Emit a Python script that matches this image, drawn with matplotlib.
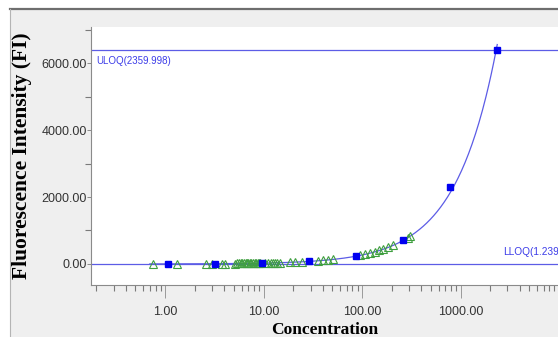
import matplotlib
matplotlib.use("Agg")
import matplotlib.pyplot as plt
from matplotlib.patches import Rectangle
from matplotlib.lines import Line2D
from matplotlib.ticker import LogLocator, FixedLocator, FuncFormatter, NullFormatter
import numpy as np

# standards (blue squares)
std_conc = [1.08, 3.24, 9.71, 29.1, 87.4, 262.0, 787.0, 2360.0]
std_fi = [3.0, 9.0, 26.0, 75.0, 225.0, 716.0, 2290.0, 6395.0]

# samples (green triangles)
smp_conc = [0.75, 1.31, 2.6, 2.98, 3.76, 4.07,
            5.1, 5.4, 5.6, 5.9, 6.1, 6.3, 6.6, 6.8, 7.0, 7.3, 7.5, 7.8,
            8.1, 8.4, 8.7, 9.0, 9.3, 10.4, 11.0, 11.8, 12.5, 13.2, 13.7,
            14.7, 18.6, 20.9, 24.4, 35.8, 40.0, 45.0, 50.7,
            95.0, 108.0, 120.0, 135.0, 150.0, 165.0, 183.0, 207.0, 290.0, 307.0]
smp_fi = [2, 4, 7, 8, 10, 11,
          14, 15, 15, 16, 17, 17, 18, 19, 19, 20, 21, 21,
          22, 23, 24, 25, 26, 29, 30, 32, 34, 36, 37,
          40, 51, 57, 66, 97, 109, 122, 138,
          258, 294, 327, 367, 408, 449, 498, 563, 789, 835]

uloq = 6403.0
lloq = 5.0
uloq_label = "ULOQ(2359.998)"
lloq_label = "LLOQ(1.239)"

W, H = 558, 337
fig = plt.figure(figsize=(W / 100, H / 100), dpi=100)
fig.patch.set_facecolor("white")

# grey panel with frame lines
fig.patches.append(Rectangle((10 / W, 0), 1 - 10 / W, (H - 9) / H, transform=fig.transFigure,
                             facecolor="#efefef", edgecolor="none", zorder=-10))
fig.lines.append(Line2D([10 / W, 1], [(H - 9) / H] * 2, transform=fig.transFigure,
                        color="#6e6e6e", lw=1.6, zorder=-9))
fig.lines.append(Line2D([10 / W] * 2, [0, (H - 9) / H], transform=fig.transFigure,
                        color="#b4b4b4", lw=0.8, zorder=-9))

ax = fig.add_axes([91 / W, (H - 285) / H, 1 - 91 / W, (285 - 27) / H])
ax.set_zorder(1)
ax.set_facecolor("white")
ax.set_xscale("log")
ax.set_xlim(0.177, 9773)
ax.set_ylim(-627, 7075)

line_c = "#5c5ce6"
ax.axhline(uloq, color=line_c, lw=0.9, zorder=2)
ax.axhline(lloq, color=line_c, lw=0.9, zorder=2)

# weighted quadratic fit through the standards
cs = np.array(std_conc)
coef = np.polyfit(cs, np.array(std_fi), 2, w=1 / cs)
xx = np.logspace(np.log10(0.7), np.log10(cs.max()), 400)
ax.plot(xx, np.polyval(coef, xx), color=line_c, lw=0.9, zorder=2)

ax.plot(smp_conc, smp_fi, linestyle="none", marker="^", markersize=5.5,
        markerfacecolor="none", markeredgecolor="#3f9f3f", markeredgewidth=0.8, zorder=3)
ax.plot(std_conc, std_fi, linestyle="none", marker="s", markersize=5,
        color="#0000f0", zorder=4)

txt_c = "#3c3ce8"
ax.annotate(uloq_label, xy=(0.012, uloq), xycoords=("axes fraction", "data"),
            xytext=(0, -5), textcoords="offset points", va="top", ha="left",
            fontsize=7, color=txt_c, family="Liberation Sans")
ax.annotate(lloq_label, xy=(503 / W, lloq), xycoords=("figure fraction", "data"),
            xytext=(0, 5), textcoords="offset points", va="bottom", ha="left",
            fontsize=7.3, color=txt_c, family="Liberation Sans", annotation_clip=False)

for s in ["top", "right"]:
    ax.spines[s].set_visible(False)
for s in ["left", "bottom"]:
    ax.spines[s].set_color("#8a8a8a")
    ax.spines[s].set_linewidth(0.8)

ax.xaxis.set_major_locator(LogLocator(base=10, numticks=10))
ax.xaxis.set_minor_locator(LogLocator(base=10, subs=np.arange(2, 10), numticks=20))
ax.xaxis.set_major_formatter(FuncFormatter(lambda v, p: "%.2f" % v))
ax.xaxis.set_minor_formatter(NullFormatter())
ax.yaxis.set_major_locator(FixedLocator([0, 2000, 4000, 6000]))
ax.yaxis.set_minor_locator(FixedLocator([1000, 3000, 5000, 7000]))
ax.yaxis.set_major_formatter(FuncFormatter(lambda v, p: "%.2f" % v))

ax.tick_params(axis="x", which="major", direction="out", length=9, width=0.7,
               color="#9a9a9a", pad=6, labelsize=9, labelcolor="#333333")
ax.tick_params(axis="x", which="minor", direction="out", length=4.5, width=0.8, color="#7a7a7a")
ax.tick_params(axis="y", which="major", direction="out", length=3, width=0.7,
               color="#8a8a8a", pad=0, labelsize=9, labelcolor="#333333")
ax.tick_params(axis="y", which="minor", direction="out", length=4, width=0.8, color="#7a7a7a")
for lab in ax.get_xticklabels() + ax.get_yticklabels():
    lab.set_family("Liberation Sans")

ax.set_xlabel("Concentration", family="Liberation Serif", fontweight="bold",
              fontsize=12.5, labelpad=3)
fig.text(22 / W, 0.5 + (337 / 2 - 156) / H, "Fluorescence Intensity (FI)", rotation=90,
         ha="center", va="center", family="Liberation Serif", fontweight="bold", fontsize=15.5)

fig.savefig("out.png", dpi=100)
